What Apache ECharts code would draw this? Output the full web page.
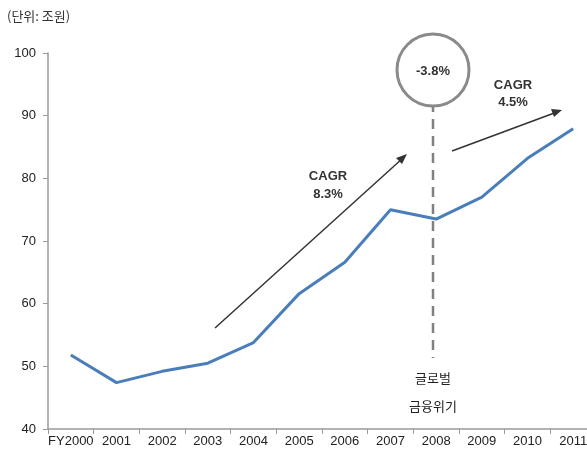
<!DOCTYPE html>
<html><head><meta charset="utf-8">
<script src="https://cdn.jsdelivr.net/npm/echarts@6/dist/echarts.min.js"></script>
<style>html,body{margin:0;padding:0;background:#fff}#c{width:587px;height:453px}</style>
</head><body><div id="c"></div>
<script>
var categories = ['FY2000','2001','2002','2003','2004','2005','2006','2007','2008','2009','2010','2011'];
var values = [51.8, 47.4, 49.2, 50.5, 53.8, 61.6, 66.6, 75.0, 73.5, 77.0, 83.2, 87.9];
var yTicks = [40, 50, 60, 70, 80, 90, 100];
var unitLabel = '(단위: 조원)';
var crisisLabel = ['글로벌', '금융위기'];
var cagr1 = ['CAGR', '8.3%'];
var cagr2 = ['CAGR', '4.5%'];
var crisisRate = '-3.8%';

var chart = echarts.init(document.getElementById('c'), null, {renderer:'canvas'});
var font = 'Liberation Sans, Arial, sans-serif';
var kfont = '"Noto Sans CJK KR", sans-serif';
var annoColor = '#333';
chart.setOption({
  animation: false,
  grid: {left: 48, top: 53, height: 376, width: 548, containLabel: false, outerBoundsMode: 'none'},
  xAxis: {
    type: 'category', data: categories, boundaryGap: true,
    axisLine: {lineStyle: {color: '#9a9a9a', width: 1.5}},
    axisTick: {show: true, length: 5, lineStyle: {color: '#9a9a9a'}},
    axisLabel: {color: '#222', fontSize: 13, fontFamily: font, margin: 6, interval: 0, hideOverlap: false}
  },
  yAxis: {
    type: 'value', min: yTicks[0], max: yTicks[yTicks.length-1], interval: 10,
    axisLine: {show: true, lineStyle: {color: '#9a9a9a', width: 1.5}},
    axisTick: {show: true, length: 5, lineStyle: {color: '#9a9a9a'}},
    splitLine: {show: false},
    axisLabel: {color: '#222', fontSize: 13, fontFamily: font, margin: 12}
  },
  series: [{
    type: 'line', data: values, symbol: 'none',
    lineStyle: {color: '#4a7ebb', width: 3}
  }],
  graphic: [
    {type: 'text', left: 7, top: 10, style: {text: unitLabel, fontSize: 13, fontFamily: kfont, fill: '#333'}},
    {type: 'line', shape: {x1: 433, y1: 102, x2: 433, y2: 358}, style: {stroke: '#808080', lineWidth: 2.5, lineDash: [10, 7]}},
    {type: 'circle', shape: {cx: 433, cy: 70, r: 36}, style: {fill: '#fff', stroke: '#8a8a8a', lineWidth: 3}},
    {type: 'text', x: 433, y: 71, style: {text: crisisRate, fontSize: 13, fontWeight: 'bold', fontFamily: font, fill: annoColor, align: 'center', verticalAlign: 'middle'}},
    {type: 'line', shape: {x1: 215, y1: 328, x2: 403, y2: 158}, style: {stroke: annoColor, lineWidth: 1.5}},
    {type: 'polygon', shape: {points: [[407,154],[396,158],[402,164]]}, style: {fill: annoColor}},
    {type: 'text', x: 328, y: 176, style: {text: cagr1[0], fontSize: 13, fontWeight: 'bold', fontFamily: font, fill: annoColor, align: 'center', verticalAlign: 'middle'}},
    {type: 'text', x: 328, y: 194, style: {text: cagr1[1], fontSize: 13, fontWeight: 'bold', fontFamily: font, fill: annoColor, align: 'center', verticalAlign: 'middle'}},
    {type: 'line', shape: {x1: 452, y1: 151, x2: 557, y2: 112}, style: {stroke: annoColor, lineWidth: 1.5}},
    {type: 'polygon', shape: {points: [[562,110],[551,109],[554,117]]}, style: {fill: annoColor}},
    {type: 'text', x: 513, y: 85, style: {text: cagr2[0], fontSize: 13, fontWeight: 'bold', fontFamily: font, fill: annoColor, align: 'center', verticalAlign: 'middle'}},
    {type: 'text', x: 513, y: 102, style: {text: cagr2[1], fontSize: 13, fontWeight: 'bold', fontFamily: font, fill: annoColor, align: 'center', verticalAlign: 'middle'}},
    {type: 'text', x: 433, y: 378, style: {text: crisisLabel[0], fontSize: 13, fontFamily: kfont, fill: '#222', align: 'center', verticalAlign: 'middle'}},
    {type: 'text', x: 433, y: 406, style: {text: crisisLabel[1], fontSize: 13, fontFamily: kfont, fill: '#222', align: 'center', verticalAlign: 'middle'}}
  ]
});
</script></body></html>
